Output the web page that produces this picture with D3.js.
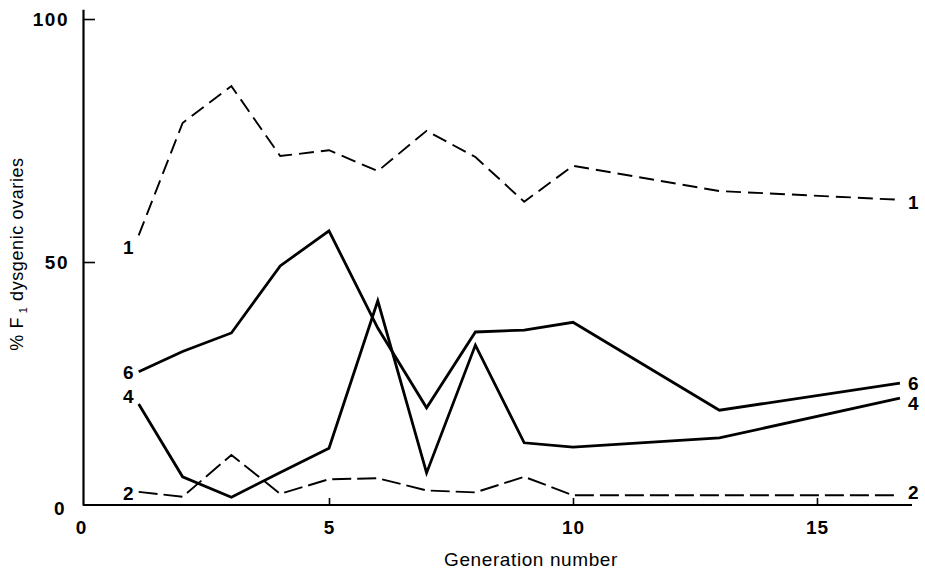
<!DOCTYPE html>
<html>
<head>
<meta charset="utf-8">
<script src="https://cdn.jsdelivr.net/npm/d3@7"></script>
<style>
  body { margin: 0; background: #fff; }
  svg { display: block; font-family: "Liberation Sans", Arial, sans-serif; }
</style>
</head>
<body>
<script>
// generation numbers where the values were scored
var generations = [1.1, 2, 3, 4, 5, 6, 7, 8, 9, 10, 13, 16.7];

// % F1 dysgenic ovaries for each line
var line1 = [55.5, 78.6, 86.2, 71.8, 73, 68.7, 77, 71.6, 62.4, 69.8, 64.6, 62.8];
var line6 = [27.4, 31.6, 35.4, 49.2, 56.4, 36.4, 20, 35.6, 36, 37.6, 19.5, 25.1];
var line4 = [20.8, 5.8, 1.6, 6.7, 11.7, 42, 6.6, 32.9, 12.8, 11.9, 13.8, 22];
var line2 = [2.7, 1.7, 10.3, 2.3, 5.3, 5.5, 3, 2.6, 5.8, 2, 2, 2];

var lineNames = ["1", "6", "4", "2"];
var xTicks = [0, 5, 10, 15];
var yTicks = [0, 50, 100];

function init() {
    var w = 925, h = 570;

    var x = d3.scaleLinear().domain([0, 16.9]).range([85, 909.7]);
    var y = d3.scaleLinear().domain([0, 102]).range([505, 9.3]);

    var svg = d3.select("body").append("svg")
        .attr("width", w)
        .attr("height", h);

    // x axis, ticks pointing up into the plot
    var xAxis = svg.append("g")
        .attr("transform", "translate(0," + y(0) + ")")
        .call(d3.axisBottom(x).tickValues(xTicks).tickSize(-7).tickSizeOuter(0).tickPadding(16));
    xAxis.select(".domain").attr("stroke-width", 2.2).attr("d", "M83,0H912");
    xAxis.selectAll(".tick line").attr("stroke-width", 1.6);
    xAxis.selectAll(".tick text")
        .attr("font-size", 19).attr("font-weight", "bold").attr("letter-spacing", 1).attr("fill", "#000");
    xAxis.selectAll(".tick").filter(function(d) { return d === 0; }).select("line").remove();
    xAxis.selectAll(".tick").filter(function(d) { return d === 0; }).select("text").attr("x", -4);

    // y axis, ticks pointing right into the plot
    var yAxis = svg.append("g")
        .attr("transform", "translate(83,0)")
        .call(d3.axisLeft(y).tickValues(yTicks).tickSize(-12).tickSizeOuter(0).tickPadding(14));
    yAxis.select(".domain").attr("stroke-width", 2.2);
    yAxis.selectAll(".tick line").attr("stroke-width", 1.6);
    yAxis.selectAll(".tick text")
        .attr("font-size", 19).attr("font-weight", "bold").attr("letter-spacing", 1.5).attr("fill", "#000");
    yAxis.selectAll(".tick").filter(function(d) { return d === 0; }).select("line").remove();
    yAxis.selectAll(".tick").filter(function(d) { return d === 0; }).select("text").attr("x", -17).attr("dy", "0.5em");

    // axis titles
    svg.append("text")
        .attr("x", 531).attr("y", 566)
        .attr("text-anchor", "middle")
        .attr("font-size", 19)
        .attr("letter-spacing", 0.6)
        .text("Generation number");

    var yTitle = svg.append("text")
        .attr("transform", "translate(23,254) rotate(-90)")
        .attr("text-anchor", "middle")
        .attr("font-size", 18)
        .attr("letter-spacing", 0.6);
    yTitle.append("tspan").text("% F");
    yTitle.append("tspan").attr("font-size", 11).attr("dy", 4).text(" 1");
    yTitle.append("tspan").attr("dy", -4).text(" dysgenic ovaries");

    // the four lines
    var series = [line1, line6, line4, line2];
    var dashes = ["15,7", null, null, "19,6"];
    var widths = [1.9, 2.8, 2.8, 1.9];

    var line = d3.line()
        .x(function(d, i) { return x(generations[i]); })
        .y(function(d) { return y(d); });

    svg.selectAll("path.series")
        .data(series)
        .enter()
        .append("path")
        .attr("class", "series")
        .attr("d", line)
        .attr("fill", "none")
        .attr("stroke", "#000")
        .attr("stroke-width", function(d, i) { return widths[i]; })
        .attr("stroke-dasharray", function(d, i) { return dashes[i]; })
        .attr("stroke-linejoin", "miter");

    // line numbers at both ends
    var leftNudge = [12, 1, -8, 1];
    var rightNudge = [3, 0, 5, -3];
    var last = generations.length - 1;

    svg.selectAll("text.leftLabel")
        .data(series)
        .enter()
        .append("text")
        .attr("class", "leftLabel")
        .attr("x", function() { return x(generations[0]) - 5; })
        .attr("y", function(d, i) { return y(d[0]) + leftNudge[i]; })
        .attr("dy", "0.35em")
        .attr("text-anchor", "end")
        .attr("font-size", 19)
        .attr("font-weight", "bold")
        .text(function(d, i) { return lineNames[i]; });

    svg.selectAll("text.rightLabel")
        .data(series)
        .enter()
        .append("text")
        .attr("class", "rightLabel")
        .attr("x", function() { return x(generations[last]) + 8; })
        .attr("y", function(d, i) { return y(d[last]) + rightNudge[i]; })
        .attr("dy", "0.35em")
        .attr("text-anchor", "start")
        .attr("font-size", 19)
        .attr("font-weight", "bold")
        .text(function(d, i) { return lineNames[i]; });
}

window.onload = init;
</script>
</body>
</html>
